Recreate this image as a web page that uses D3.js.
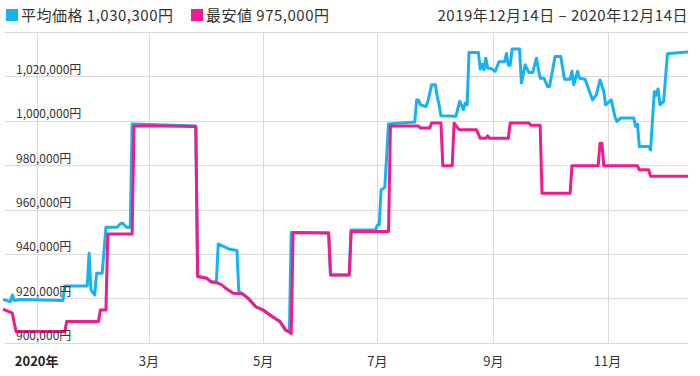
<!DOCTYPE html>
<html>
<head>
<meta charset="utf-8">
<script src="https://cdn.jsdelivr.net/npm/d3@7"></script>
<style>
  body { margin: 0; background: #fff; }
  text { font-family: "Noto Sans CJK JP", "Noto Sans", sans-serif; fill: #333; }
</style>
</head>
<body>
<svg id="chart" width="700" height="376"></svg>
<script>
// 平均価格 (avg price)
const avgSeries = [
  ["2019-12-14", 919500], ["2019-12-18", 918500], ["2019-12-19", 921500], ["2019-12-20", 919000],
  ["2019-12-23", 919500], ["2020-01-15", 919000], ["2020-01-16", 925600], ["2020-01-28", 925600],
  ["2020-01-29", 940300], ["2020-01-30", 923800], ["2020-02-01", 921500], ["2020-02-02", 931300],
  ["2020-02-05", 931300], ["2020-02-07", 952000], ["2020-02-13", 952000], ["2020-02-15", 953800],
  ["2020-02-16", 953800], ["2020-02-18", 952000], ["2020-02-20", 952000], ["2020-02-21", 998600],
  ["2020-03-01", 998300], ["2020-03-26", 997700], ["2020-03-27", 929800], ["2020-04-01", 929000],
  ["2020-04-03", 927500], ["2020-04-06", 927100], ["2020-04-07", 944500], ["2020-04-13", 942100],
  ["2020-04-17", 941500], ["2020-04-18", 923000], ["2020-04-20", 922000], ["2020-04-23", 920000],
  ["2020-04-27", 916200], ["2020-05-01", 914700], ["2020-05-06", 911700], ["2020-05-10", 909500],
  ["2020-05-13", 905700], ["2020-05-15", 905000], ["2020-05-16", 949600], ["2020-06-05", 949400],
  ["2020-06-06", 930500], ["2020-06-16", 930500], ["2020-06-17", 950800], ["2020-06-30", 950800],
  ["2020-07-01", 953000], ["2020-07-02", 953000], ["2020-07-03", 968800], ["2020-07-05", 970000],
  ["2020-07-07", 998600], ["2020-07-21", 999400], ["2020-07-22", 1009400], ["2020-07-23", 1009400],
  ["2020-07-24", 1007200], ["2020-07-27", 1006400], ["2020-07-28", 1008700], ["2020-07-30", 1016200],
  ["2020-08-01", 1016200], ["2020-08-02", 1011000], ["2020-08-03", 1007200], ["2020-08-04", 1002300],
  ["2020-08-12", 1002000], ["2020-08-14", 1008700], ["2020-08-16", 1005000], ["2020-08-17", 1008000],
  ["2020-08-18", 1007200], ["2020-08-19", 1030800], ["2020-08-24", 1030800], ["2020-08-25", 1023300],
  ["2020-08-26", 1025500], ["2020-08-27", 1023000], ["2020-08-28", 1028200], ["2020-08-29", 1023700],
  ["2020-08-31", 1023500], ["2020-09-02", 1022300], ["2020-09-04", 1026600], ["2020-09-07", 1026600],
  ["2020-09-08", 1030300], ["2020-09-09", 1025000], ["2020-09-10", 1025000], ["2020-09-11", 1032300],
  ["2020-09-15", 1032300], ["2020-09-16", 1017000], ["2020-09-18", 1025200], ["2020-09-20", 1021700],
  ["2020-09-22", 1021700], ["2020-09-24", 1028200], ["2020-09-26", 1019200], ["2020-09-28", 1019200],
  ["2020-09-30", 1015400], ["2020-10-01", 1015400], ["2020-10-04", 1029000], ["2020-10-07", 1029000],
  ["2020-10-09", 1018700], ["2020-10-12", 1018700], ["2020-10-13", 1022300], ["2020-10-14", 1016300],
  ["2020-10-16", 1022300], ["2020-10-17", 1019200], ["2020-10-20", 1018700], ["2020-10-23", 1011700],
  ["2020-10-24", 1009400], ["2020-10-26", 1011700], ["2020-10-28", 1018400], ["2020-10-30", 1013200],
  ["2020-10-31", 1007200], ["2020-11-03", 1009400], ["2020-11-05", 1001700], ["2020-11-06", 999700],
  ["2020-11-08", 1001200], ["2020-11-15", 1001200], ["2020-11-16", 997500], ["2020-11-17", 998500],
  ["2020-11-18", 988400], ["2020-11-23", 988400], ["2020-11-24", 986900], ["2020-11-26", 1013200],
  ["2020-11-27", 1011500], ["2020-11-28", 1014300], ["2020-11-29", 1007200], ["2020-12-01", 1008700],
  ["2020-12-03", 1030200], ["2020-12-07", 1030500], ["2020-12-14", 1031000]
]

// 最安値 (lowest price)
const minSeries = [
  ["2019-12-14", 915100], ["2019-12-19", 913300], ["2019-12-20", 908800], ["2019-12-21", 905000],
  ["2020-01-16", 905000], ["2020-01-17", 909500], ["2020-02-03", 909500], ["2020-02-04", 914700],
  ["2020-02-07", 914700], ["2020-02-08", 949000], ["2020-02-21", 949000], ["2020-02-22", 997600],
  ["2020-03-01", 997800], ["2020-03-26", 997400], ["2020-03-27", 929800], ["2020-04-01", 929000],
  ["2020-04-03", 927500], ["2020-04-06", 927100], ["2020-04-09", 926000], ["2020-04-11", 924500],
  ["2020-04-15", 922300], ["2020-04-20", 922000], ["2020-04-23", 920000], ["2020-04-27", 916200],
  ["2020-05-01", 914700], ["2020-05-06", 911700], ["2020-05-10", 909500], ["2020-05-13", 905700],
  ["2020-05-16", 904200], ["2020-05-17", 949600], ["2020-06-05", 949400], ["2020-06-06", 930500],
  ["2020-06-16", 930500], ["2020-06-17", 950100], ["2020-07-07", 950100], ["2020-07-08", 997700],
  ["2020-07-23", 997700], ["2020-07-24", 996700], ["2020-07-29", 996700], ["2020-07-30", 999000],
  ["2020-08-04", 999000], ["2020-08-05", 979700], ["2020-08-10", 979700], ["2020-08-11", 998900],
  ["2020-08-13", 996700], ["2020-08-14", 995900], ["2020-08-23", 995900], ["2020-08-25", 992100],
  ["2020-08-28", 992100], ["2020-08-29", 993200], ["2020-08-30", 992100], ["2020-09-09", 992100],
  ["2020-09-10", 999000], ["2020-09-20", 999000], ["2020-09-21", 998000], ["2020-09-26", 998000],
  ["2020-09-27", 967300], ["2020-10-12", 967300], ["2020-10-13", 979700], ["2020-10-27", 979700],
  ["2020-10-28", 989900], ["2020-10-29", 989900], ["2020-10-30", 979700], ["2020-11-17", 979700],
  ["2020-11-18", 977900], ["2020-11-23", 977900], ["2020-11-24", 975000], ["2020-12-14", 975000]
]

const yTicks = [900000, 920000, 940000, 960000, 980000, 1000000, 1020000, 1040000]
const monthTicks = ["2020-01-01", "2020-03-01", "2020-05-01", "2020-07-01", "2020-09-01", "2020-11-01"]
const monthLabels = ["2020年", "3月", "5月", "7月", "9月", "11月"]
const legendItems = [
  {name: "平均価格", value: "1,030,300円", color: "#17b3ef"},
  {name: "最安値", value: "975,000円", color: "#ee1c8c"}
]
const dateRange = "2019年12月14日 – 2020年12月14日"

let parse = d3.timeParse("%Y-%m-%d")
let svg = d3.select("#chart")

let x = d3.scaleTime().domain([parse("2019-12-14"), parse("2020-12-14")]).range([3, 688])
let y = d3.scaleLinear().domain([900000, 1040000]).range([342.7, 32])

// grid
svg.append("g")
  .selectAll("line")
  .data(yTicks)
  .enter()
  .append("line")
    .attr("x1", 5)
    .attr("x2", 688)
    .attr("y1", (d) => Math.round(y(d)) + 0.5)
    .attr("y2", (d) => Math.round(y(d)) + 0.5)
    .style("stroke", "#dadada")

svg.append("g")
  .selectAll("line")
  .data(monthTicks)
  .enter()
  .append("line")
    .attr("x1", (d) => Math.round(x(parse(d))) + 0.5)
    .attr("x2", (d) => Math.round(x(parse(d))) + 0.5)
    .attr("y1", y(1040000))
    .attr("y2", y(900000))
    .style("stroke", "#dadada")

// lines
let line = d3.line()
  .x((d) => x(parse(d[0])))
  .y((d) => y(d[1]))

svg.append("path")
  .datum(avgSeries)
  .attr("d", line)
  .style("fill", "none")
  .style("stroke", legendItems[0].color)
  .style("stroke-width", 3)
  .style("stroke-linejoin", "round")

svg.append("path")
  .datum(minSeries)
  .attr("d", line)
  .style("fill", "none")
  .style("stroke", legendItems[1].color)
  .style("stroke-width", 3)
  .style("stroke-linejoin", "round")

// y labels sit just above their grid line
svg.append("g")
  .selectAll("text")
  .data(yTicks.slice(0, -1))
  .enter()
  .append("text")
    .attr("x", 16)
    .attr("y", (d) => y(d) - 2.5)
    .style("font-size", "12px")
    .text((d) => d3.format(",")(d) + "円")

// x labels
svg.append("g")
  .selectAll("text")
  .data(monthTicks)
  .enter()
  .append("text")
    .attr("x", (d) => x(parse(d)))
    .attr("y", 366)
    .attr("text-anchor", "middle")
    .style("font-size", "13px")
    .style("font-weight", (d, i) => i == 0 ? "bold" : "normal")
    .style("fill", (d, i) => i == 0 ? "#2a1d2a" : "#333")
    .text((d, i) => monthLabels[i])

// legend
let lx = [6, 191]
legendItems.forEach((item, i) => {
  svg.append("rect")
    .attr("x", lx[i])
    .attr("y", 9)
    .attr("width", 12)
    .attr("height", 12)
    .style("fill", item.color)
  svg.append("text")
    .attr("x", lx[i] + 15)
    .attr("y", 21)
    .style("font-size", "15px")
    .style("letter-spacing", "0.5px")
    .text(item.name + " " + item.value)
})

svg.append("text")
  .attr("x", 688)
  .attr("y", 21)
  .attr("text-anchor", "end")
  .style("font-size", "15px")
  .style("letter-spacing", "0.5px")
  .text(dateRange)
</script>
</body>
</html>
